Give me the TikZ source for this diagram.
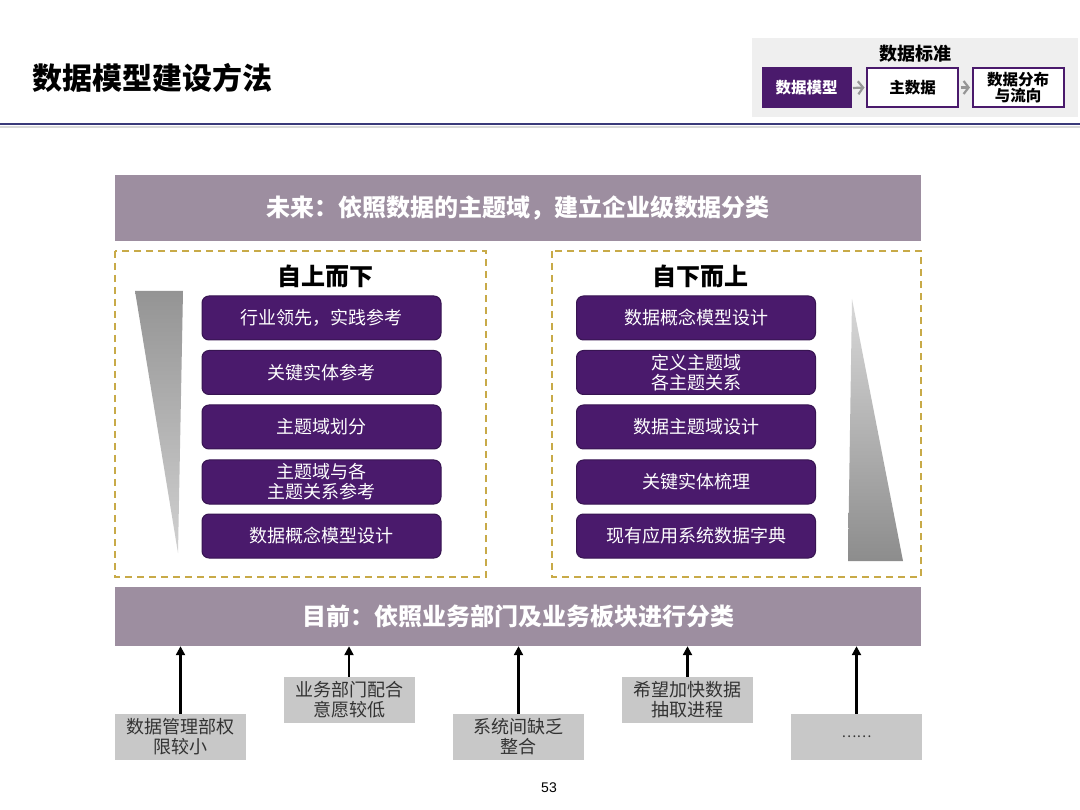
\documentclass[tikz,border=0pt]{standalone}
\usepackage{fontspec}
\setmainfont{Noto Sans CJK SC}
\newfontfamily\numfont{Liberation Sans}
\usetikzlibrary{arrows.meta}
\definecolor{deeppurple}{RGB}{74,26,108}
\definecolor{band}{RGB}{157,142,160}
\definecolor{goldd}{RGB}{200,170,72}
\definecolor{boxgray}{RGB}{200,200,200}
\definecolor{navy}{RGB}{58,58,122}
\definecolor{panelgray}{RGB}{239,239,239}
\definecolor{chevgray}{RGB}{150,150,150}
\tikzset{
  pbox/.style={draw=deeppurple!75!black, fill=deeppurple, rounded corners=7pt,
    minimum width=239pt, minimum height=44pt, text=white, align=center,
    inner sep=0pt, line width=1pt, font=\fontsize{18}{20}\selectfont},
  gbox/.style={fill=boxgray, minimum width=131pt, minimum height=46pt,
    text=black!80, align=center, inner sep=0pt, font=\fontsize{18}{20}\selectfont},
  bandbox/.style={fill=band, minimum width=806pt, text=white, inner sep=0pt,
    font=\bfseries\fontsize{24}{26}\selectfont},
  dashbox/.style={draw=goldd, line width=1.6pt, dash pattern=on 7pt off 5pt},
  uparr/.style={draw=black, line width=2.6pt, -{Triangle[length=9pt,width=9pt]}},
  chev/.style={draw=chevgray, line width=2.2pt, -{Straight Barb[length=5pt,width=13pt]}},
  headbox/.style={minimum height=39pt, inner sep=0pt, align=center,
    font=\bfseries\fontsize{15.5}{16.5}\selectfont, line width=2pt},
  subhead/.style={font=\bfseries\fontsize{24}{26}\selectfont, text=black, inner sep=0pt}
}
\begin{document}
\begin{tikzpicture}[x=1pt,y=-1pt]
\useasboundingbox (0,0) rectangle (1080,810);
\fill[white] (0,0) rectangle (1080,810);

% title and header line
\node[anchor=west, inner sep=0pt, font=\bfseries\fontsize{30}{32}\selectfont] (title) at (32,78) {数据模型建设方法};
\draw[black!15, line width=2pt] (0,127) -- (1080,127);
\draw[navy, line width=2.6pt] (0,124) -- (1080,124);

% top-right panel
\fill[panelgray] (752,38) rectangle (1078,117);
\node[inner sep=0pt, font=\bfseries\fontsize{18}{20}\selectfont] (std) at (915,54) {数据标准};
\node[headbox, fill=deeppurple, draw=deeppurple, text=white, minimum width=88pt] (m1) at (806.5,88) {数据模型};
\node[headbox, fill=white, draw=deeppurple, text=black, minimum width=91pt] (m2) at (912.5,87.5) {主数据};
\node[headbox, fill=white, draw=deeppurple, text=black, minimum width=91pt] (m3) at (1018,87.5) {数据分布\\与流向};
\draw[chev] ([xshift=1.5pt]m1.east) -- ([xshift=-1.5pt]m2.west);
\draw[chev] ([xshift=1.5pt]m2.east) -- ([xshift=-1.5pt]m3.west);

% bands
\node[bandbox, minimum height=66pt] (top) at (518,208) {未来：依照数据的主题域，建立企业级数据分类};
\node[bandbox, minimum height=59pt] (bot) at (518,616.5) {目前：依照业务部门及业务板块进行分类};

% dashed frames
\draw[dashbox] (115,251) rectangle (486,577);
\draw[dashbox] (552,251) rectangle (921,577);

\node[subhead] (lh) at (325,276) {自上而下};
\node[subhead] (rh) at (700,276) {自下而上};

% left boxes
\node[pbox] (l1) at (321.5,318) {行业领先，实践参考};
\node[pbox] (l2) at (321.5,372.5) {关键实体参考};
\node[pbox] (l3) at (321.5,427) {主题域划分};
\node[pbox] (l4) at (321.5,482) {主题域与各\\主题关系参考};
\node[pbox] (l5) at (321.5,536) {数据概念模型设计};

% right boxes
\node[pbox] (r1) at (696,318) {数据概念模型设计};
\node[pbox] (r2) at (696,372.5) {定义主题域\\各主题关系};
\node[pbox] (r3) at (696,427) {数据主题域设计};
\node[pbox] (r4) at (696,482) {关键实体梳理};
\node[pbox] (r5) at (696,536) {现有应用系统数据字典};

% triangles
\begin{scope}
  \clip (135,291) -- (183,291) -- (178,553) -- cycle;
  \shade[top color=black!42, bottom color=black!18] (130,290) rectangle (190,555);
\end{scope}
\begin{scope}
  \clip (852,299) -- (903,561) -- (848,561) -- cycle;
  \shade[top color=black!15, bottom color=black!45] (845,298) rectangle (906,562);
\end{scope}

% gray boxes
\node[gbox] (g1) at (180.5,737) {数据管理部权\\限较小};
\node[gbox] (g2) at (349,700) {业务部门配合\\意愿较低};
\node[gbox] (g3) at (518.5,737) {系统间缺乏\\整合};
\node[gbox] (g4) at (687.5,700) {希望加快数据\\抽取进程};
\node[gbox, font=\fontsize{14}{16}\selectfont] (g5) at (856.5,737) {……};

\foreach \g in {g1,g2,g3,g4,g5}
  \draw[uparr] (\g.north) -- (\g.north |- bot.south);

\node[inner sep=0pt, font=\numfont\fontsize{14}{16}\selectfont] (pg) at (549,788) {53};
\end{tikzpicture}
\end{document}
